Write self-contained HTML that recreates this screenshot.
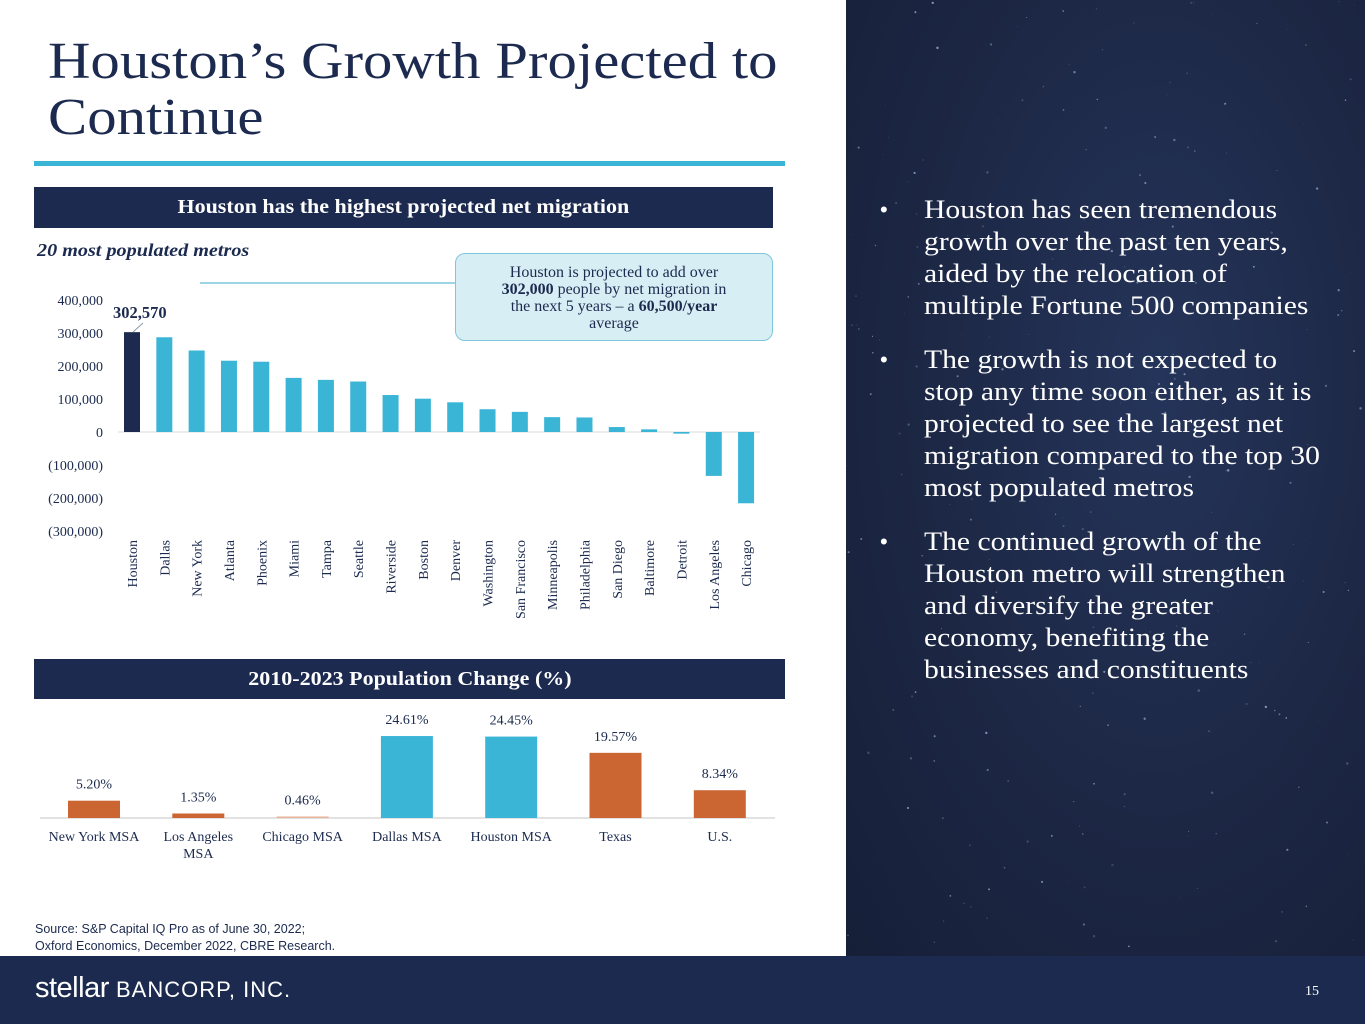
<!DOCTYPE html>
<html><head><meta charset="utf-8">
<style>
body{margin:0;width:1365px;height:1024px;position:relative;overflow:hidden;background:#fff;font-family:"Liberation Serif",serif;}
.title{position:absolute;left:48px;top:34px;font-size:52px;line-height:56px;color:#1b2a4e;transform:scaleX(1.13);transform-origin:left top;white-space:nowrap;}
.rule{position:absolute;left:34px;top:161px;width:751px;height:5px;background:#3ab5d6;}
.banner{position:absolute;left:34px;background:#1b2a4e;color:#fff;font-weight:bold;font-size:20px;text-align:center;}
.banner span{display:inline-block;transform:scaleX(1.1);}
.right{position:absolute;left:846px;top:0;width:519px;height:956px;background:radial-gradient(ellipse at 60% 40%,#25345a 0%,#1c2744 55%,#161f38 100%);}
.right ul{position:absolute;left:24px;top:194px;margin:0;padding:0;list-style:none;color:#fff;font-size:26px;line-height:32px;}
.right li{position:relative;padding-left:54px;margin-bottom:22px;white-space:nowrap;}
.right li span{display:inline-block;transform:scaleX(1.14);transform-origin:left top;}
.right li:before{content:"•";position:absolute;left:10px;top:0;font-family:"Liberation Sans",sans-serif;font-size:22px;}
.footer{position:absolute;left:0;top:956px;width:1365px;height:68px;background:#1b2a4e;}
</style></head><body>
<div class="title">Houston’s Growth Projected to<br>Continue</div>
<div class="rule"></div>
<div class="banner" style="top:187px;width:739px;height:41px;line-height:41px;"><span>Houston has the highest projected net migration</span></div>
<div style="position:absolute;left:37px;top:240px;font-size:18px;font-weight:bold;font-style:italic;color:#1b2a4e;transform:scaleX(1.12);transform-origin:left top;">20 most populated metros</div>

<svg id="c1" style="position:absolute;left:0;top:0" width="846" height="660"></svg>

<div style="position:absolute;left:455px;top:253px;width:318px;height:88px;border:1px solid #7cc7da;border-radius:10px;background:#d8eef5;color:#1b2a4e;font-size:16px;line-height:17px;text-align:center;padding-top:10px;box-sizing:border-box;">Houston is projected to add over<br><b>302,000</b> people by net migration in<br>the next 5 years – a <b>60,500/year</b><br>average</div>

<div class="banner" style="top:659px;width:751px;height:40px;line-height:40px;"><span>2010-2023 Population Change (%)</span></div>
<svg id="c2" style="position:absolute;left:0;top:700px" width="846" height="170"></svg>

<div style="position:absolute;left:35px;top:921px;font-family:'Liberation Sans',sans-serif;font-size:12.5px;line-height:17px;color:#1b2a4e;">Source: S&amp;P Capital IQ Pro as of June 30, 2022;<br>Oxford Economics, December 2022, CBRE Research.</div>

<div class="right">
<svg id="stars" width="519" height="956" style="position:absolute;left:0;top:0"></svg>
<ul>
<li><span>Houston has seen tremendous<br>growth over the past ten years,<br>aided by the relocation of<br>multiple Fortune 500 companies</span></li>
<li><span>The growth is not expected to<br>stop any time soon either, as it is<br>projected to see the largest net<br>migration compared to the top 30<br>most populated metros</span></li>
<li><span>The continued growth of the<br>Houston metro will strengthen<br>and diversify the greater<br>economy, benefiting the<br>businesses and constituents</span></li>
</ul></div>

<div class="footer">
<div style="position:absolute;left:35px;top:16px;color:#fff;font-family:'Liberation Sans',sans-serif;"><span style="font-size:29px;letter-spacing:-0.5px;">stellar</span><span style="font-size:22px;letter-spacing:1px;"> BANCORP, INC.</span></div>
<div style="position:absolute;left:1305px;top:28px;color:#fff;font-size:14px;">15</div>
</div>

<script>
const metros=["Houston","Dallas","New York","Atlanta","Phoenix","Miami","Tampa","Seattle","Riverside","Boston","Denver","Washington","San Francisco","Minneapolis","Philadelphia","San Diego","Baltimore","Detroit","Los Angeles","Chicago"];
const migration=[302570,287000,247000,216000,213000,164000,158000,153000,112000,101000,90000,69000,61000,45000,44000,15000,8000,-5000,-133000,-216000];
const yTicks=[400000,300000,200000,100000,0,-100000,-200000,-300000];
const yTickLabels=["400,000","300,000","200,000","100,000","0","(100,000)","(200,000)","(300,000)"];

const pctCats=[["New York MSA"],["Los Angeles","MSA"],["Chicago MSA"],["Dallas MSA"],["Houston MSA"],["Texas"],["U.S."]];
const pctVals=[5.20,1.35,0.46,24.61,24.45,19.57,8.34];
const pctLabels=["5.20%","1.35%","0.46%","24.61%","24.45%","19.57%","8.34%"];

const NS="http://www.w3.org/2000/svg";
function mk(p,t,a){const e=document.createElementNS(NS,t);for(const k in a)e.setAttribute(k,a[k]);p.appendChild(e);return e;}

const c1=document.getElementById('c1');
const y1=v=>432-v*0.00033;
const x1=i=>132+i*32.32;
yTicks.forEach((t,i)=>{
  const e=mk(c1,'text',{x:103,y:y1(t)+5,'text-anchor':'end','font-size':14,fill:'#1b2a4e'});
  e.textContent=yTickLabels[i];
  
  
});
const ax=mk(c1,'line',{x1:118,x2:760,y1:y1(0),y2:y1(0),stroke:'#d9d9d9','stroke-width':1});


metros.forEach((m,i)=>{
  const v=migration[i];
  const r=mk(c1,'rect',{x:x1(i)-8,y:Math.min(y1(v),y1(0)),width:16,height:Math.abs(y1(v)-y1(0)),fill:i===0?'#1b2a4e':'#3ab5d6'});
  
  
  const t=mk(c1,'text',{transform:`translate(${x1(i)+5},540) rotate(-90)`,'text-anchor':'end','font-size':14,fill:'#1b2a4e'});
  t.textContent=m;
  
  
});
const hl=mk(c1,'text',{x:113,y:318,'font-size':16.5,'font-weight':'bold',fill:'#1b2a4e'});
hl.textContent=migration[0].toLocaleString('en-US');


const ln=mk(c1,'line',{x1:133,y1:332,x2:143,y2:323,stroke:'#8a9bb0','stroke-width':1});


const cl=mk(c1,'line',{x1:200,y1:283,x2:455,y2:283,stroke:'#7cc7da','stroke-width':1.5});



const c2=document.getElementById('c2');
const y2=v=>118-v*3.33;
const x2=i=>94+i*104.3;
const base=mk(c2,'line',{x1:40,x2:775,y1:118,y2:118,stroke:'#d9d9d9','stroke-width':1.5});


pctVals.forEach((v,i)=>{
  const col=(i===3||i===4)?'#3ab5d6':(i===2?'#e8b59c':'#cb6632');
  const r=mk(c2,'rect',{x:x2(i)-26,y:y2(v),width:52,height:118-y2(v),fill:col});
  
  
  const t=mk(c2,'text',{x:x2(i),y:y2(v)-12,'text-anchor':'middle','font-size':14,fill:'#1b2a4e'});
  t.textContent=pctLabels[i];
  
  
  pctCats[i].forEach((s,j)=>{
    const c=mk(c2,'text',{x:x2(i),y:141+j*17,'text-anchor':'middle','font-size':14,fill:'#1b2a4e'});
    c.textContent=s;
    
    
  });
});

const st=document.getElementById('stars');
let seed=7;function rnd(){seed=(seed*9301+49297)%233280;return seed/233280;}
for(let i=0;i<260;i++){mk(st,'circle',{cx:rnd()*519,cy:rnd()*956,r:rnd()*1.1+0.2,fill:'#9fb4d8',opacity:rnd()*0.6+0.2});}
</script>
</body></html>
